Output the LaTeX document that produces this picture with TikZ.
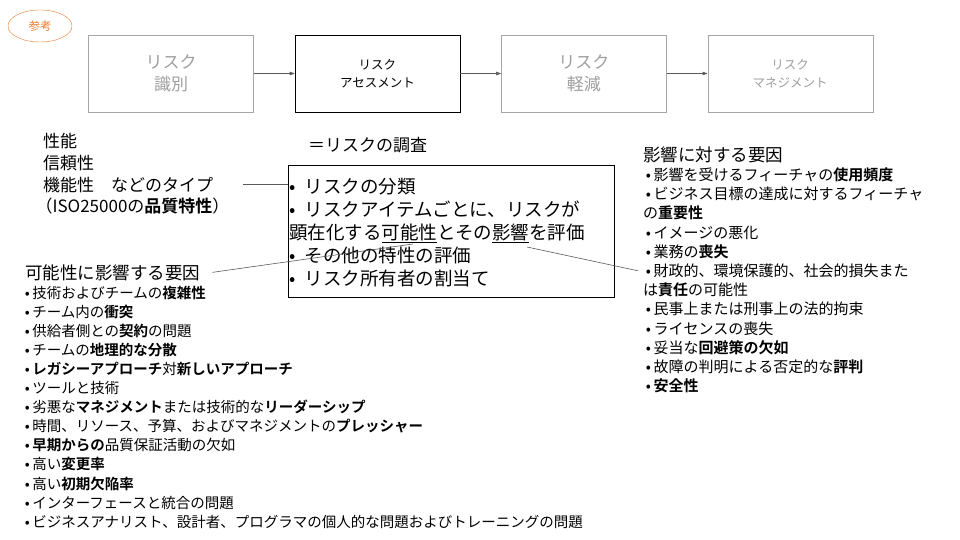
\documentclass[tikz,border=0pt]{standalone}
\usepackage{fontspec}
\setmainfont{Noto Sans CJK JP}[BoldFont={Noto Sans CJK JP Bold}]
\usepackage{xcolor}
\usetikzlibrary{calc}
\usetikzlibrary{arrows.meta}
\usetikzlibrary{positioning}
\usetikzlibrary{shapes.geometric}
\definecolor{refcolor}{RGB}{237,125,49}
\definecolor{boxgray}{RGB}{166,166,166}
\definecolor{textgray}{RGB}{158,158,158}
\definecolor{arrowgray}{RGB}{89,89,89}

\begin{document}
\begin{tikzpicture}[x=1pt,y=-1pt]
% 1 = 1px of the slide
    \def\BOXW{165pt} %width of stages
    \def\BOXH{77pt}
    \def\BOXGAP{41pt}
    \def\XLEFT{22}
    \def\YLEFT{298}
    \def\XRIGHT{643}
    \def\YRIGHT{180.5}
    \def\DY{19.1}
    \def\BUL{\makebox[0.7em]{\makebox[0pt]{•}}}
    \def\BOXBUL{\makebox[0.35em]{\makebox[0pt]{•}}\hspace{0.5em}}

    \tikzset{
      stage/.style={draw=boxgray, text=textgray, minimum width=\BOXW,
        minimum height=\BOXH, align=center, inner sep=2pt,
        font=\fontsize{17}{22}\selectfont},
      smallstage/.style={stage, font=\fontsize{12.5}{18.5}\selectfont},
      flow/.style={-{Triangle[length=5pt,width=3.5pt]}, color=arrowgray, line width=0.6pt},
      link/.style={color=arrowgray, line width=0.6pt},
      textline/.style={anchor=base west, inner sep=0pt},
      listline/.style={textline, font=\fontsize{14.5}{19}\selectfont},
      impactline/.style={textline, font=\fontsize{15}{19}\selectfont},
      headline/.style={textline, font=\fontsize{17.5}{22}\selectfont},
      boxline/.style={textline, font=\fontsize{18.5}{23}\selectfont},
    }

    \useasboundingbox (0,0) rectangle (960,540);

    % REFERENCE MARK
    \node[ellipse, draw=refcolor, text=refcolor, minimum width=64pt,
        minimum height=32pt, inner sep=0pt, font=\fontsize{11.5}{13}\selectfont]
        (refmark) at (40,26) {参考};

    % STAGES
    \node[stage] (ident) at (171,73.5) {リスク\\識別};
    \node[smallstage, draw=black, text=black, right=\BOXGAP of ident]
        (assess) {リスク\\アセスメント};
    \node[stage, right=\BOXGAP of assess] (mitig) {リスク\\軽減};
    \node[smallstage, right=\BOXGAP of mitig] (manage) {リスク\\マネジメント};

    \draw[flow] (ident) -- (assess);
    \draw[flow] (assess) -- (mitig);
    \draw[flow] (mitig) -- (manage);

    % QUALITY CHARACTERISTICS
    \foreach \txt [count=\i] in {{性能}, {信頼性}, {機能性　などのタイプ},
        {\hspace*{-0.45em}（ISO25000の\textbf{品質特性}）}}
        \node[headline, font=\fontsize{17}{22}\selectfont]
            (qual-\i) at (43,{147.5+(\i-1)*21.8}) {\txt};

    % SURVEY BOX
    \node[headline, font=\fontsize{17}{22}\selectfont] (survey) at (308,151.5) {＝リスクの調査};
    \node[draw=black, line width=0.8pt, anchor=north west, minimum width=326pt,
        minimum height=132pt, inner sep=0pt] (surveybox) at (288,165) {};
    \foreach \txt [count=\i] in {{\BOXBUL リスクの分類},
        {\BOXBUL リスクアイテムごとに、リスクが},
        {顕在化する\underline{可能性}とその\underline{影響}を評価},
        {\BOXBUL その他の特性の評価},
        {\BOXBUL リスク所有者の割当て}}
        \node[boxline] (sbline-\i) at (289,{193.5+(\i-1)*23}) {\txt};

    \draw[link] ([xshift=30pt]qual-3.east) -- (qual-3.east -| surveybox.west);

    % FACTORS FOR LIKELIHOOD
    \node[headline] (likely) at (25,279) {可能性に影響する要因};
    \foreach \txt [count=\i] in {{技術およびチームの\textbf{複雑性}},
        {チーム内の\textbf{衝突}},
        {供給者側との\textbf{契約}の問題},
        {チームの\textbf{地理的な分散}},
        {\textbf{レガシーアプローチ}対\textbf{新しいアプローチ}},
        {ツールと技術},
        {劣悪な\textbf{マネジメント}または技術的な\textbf{リーダーシップ}},
        {時間、リソース、予算、およびマネジメントの\textbf{プレッシャー}},
        {\textbf{早期からの}品質保証活動の欠如},
        {高い\textbf{変更率}},
        {高い\textbf{初期欠陥率}},
        {インターフェースと統合の問題},
        {ビジネスアナリスト、設計者、プログラマの個人的な問題およびトレーニングの問題}}
        \node[listline] (likely-\i) at (\XLEFT,{\YLEFT+(\i-1)*\DY}) {\BUL\txt};

    \coordinate (lkend) at (413,244);
    \draw[link] ([xshift=12pt]likely.east) -- (lkend);

    % FACTORS FOR IMPACT
    \node[headline] (impact) at (643,161.5) {影響に対する要因};
    \foreach \txt [count=\i] in {{\BUL 影響を受けるフィーチャの\textbf{使用頻度}},
        {\BUL ビジネス目標の達成に対するフィーチャ},
        {の\textbf{重要性}},
        {\BUL イメージの悪化},
        {\BUL 業務の\textbf{喪失}},
        {\BUL 財政的、環境保護的、社会的損失また},
        {は\textbf{責任}の可能性},
        {\BUL 民事上または刑事上の法的拘束},
        {\BUL ライセンスの喪失},
        {\BUL 妥当な\textbf{回避策の欠如}},
        {\BUL 故障の判明による否定的な\textbf{評判}},
        {\BUL \textbf{安全性}}}
        \node[impactline] (impact-\i) at (\XRIGHT,{\YRIGHT+(\i-1)*19.2}) {\txt};

    \coordinate (imstart) at (527,247);
    \draw[link] (imstart) -- ([xshift=-5pt]impact-6.west);

\end{tikzpicture}
\end{document}
